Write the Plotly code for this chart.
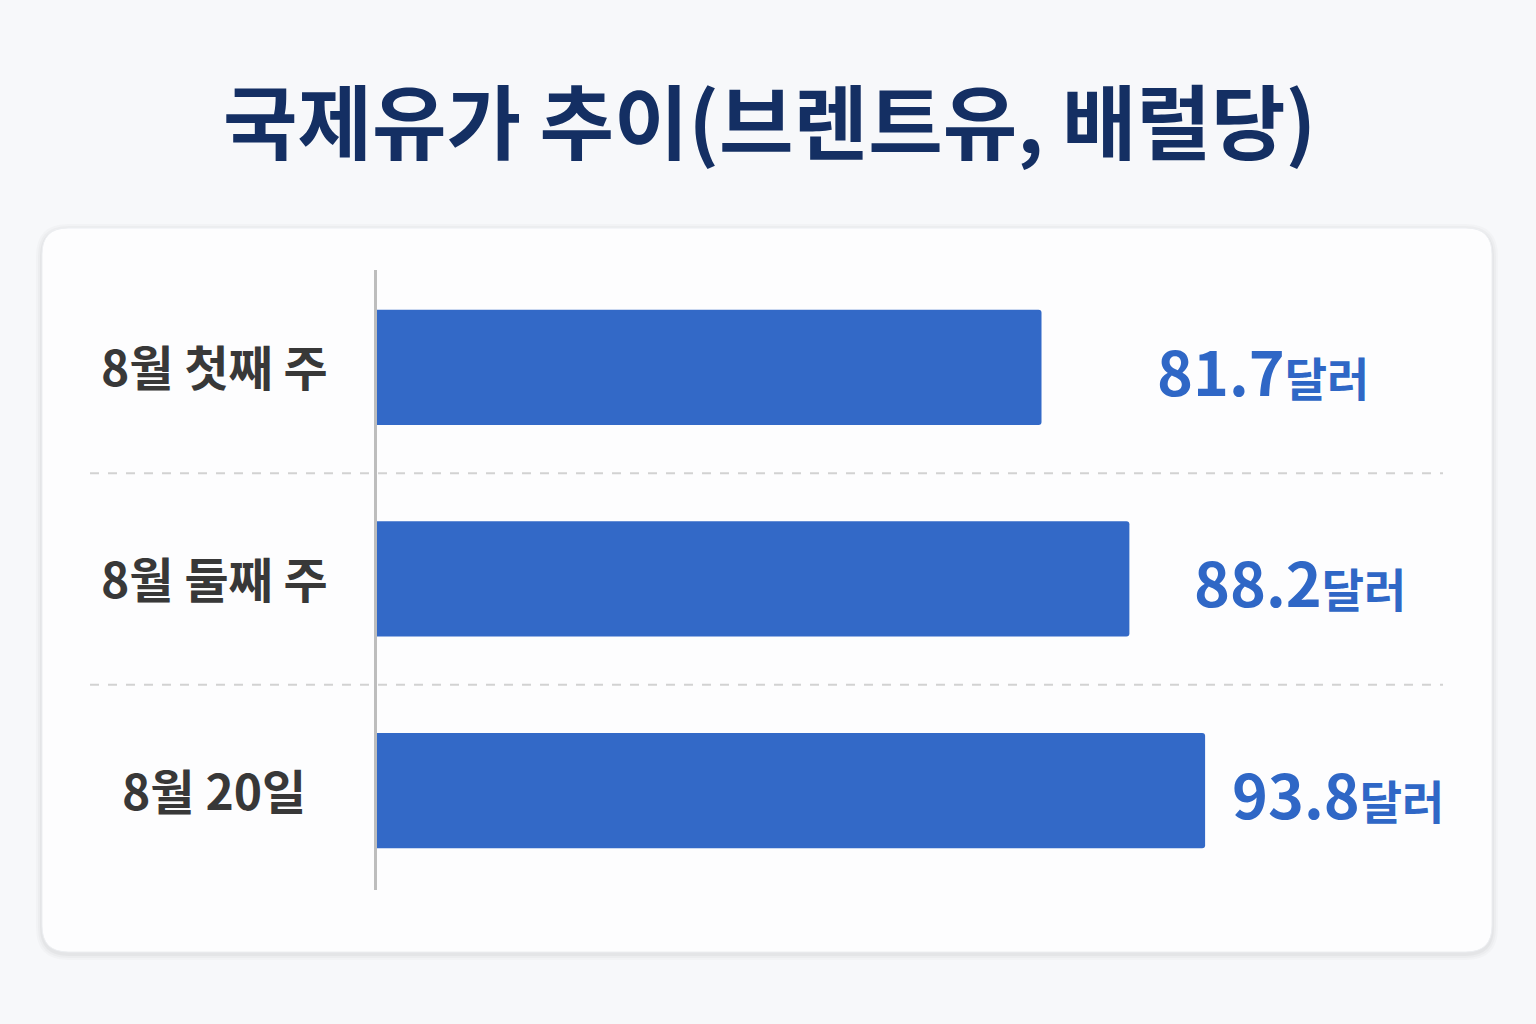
import plotly.graph_objects as go

categories = ['8월 첫째 주', '8월 둘째 주', '8월 20일']
prices = [81.7, 88.2, 93.8]
unit = '달러'
title_text = '국제유가 추이(브렌트유, 배럴당)'

W, H = 1536, 1024
L, R, T, B = 377, 1443, 270, 890   # plot area in pixels

FONT = 'Noto Sans CJK KR'
BAR = '#3369c7'
LABEL = '#2f67c6'


def px(x, y):
    # pixel -> paper coords
    return (x - L) / (R - L), (B - y) / (B - T)


def round_rect(x0, y0, x1, y1, r):
    def p(x, y):
        a, b = px(x, y)
        return f'{a:.5f},{b:.5f}'
    return (f'M {p(x0 + r, y0)} L {p(x1 - r, y0)} Q {p(x1, y0)} {p(x1, y0 + r)} '
            f'L {p(x1, y1 - r)} Q {p(x1, y1)} {p(x1 - r, y1)} '
            f'L {p(x0 + r, y1)} Q {p(x0, y1)} {p(x0, y1 - r)} '
            f'L {p(x0, y0 + r)} Q {p(x0, y0)} {p(x0 + r, y0)} Z')


fig = go.Figure()
fig.add_trace(go.Bar(
    x=prices, y=categories, orientation='h',
    marker=dict(color=BAR, cornerradius=3, line=dict(width=0)),
    width=0.545, hoverinfo='skip'))

shapes = []
# card shadow + card
for i, op in enumerate([0.02, 0.025, 0.03]):
    g = 6 - 2 * i
    shapes.append(dict(type='path', xref='paper', yref='paper', layer='below',
                       path=round_rect(42 - g, 228 - g + 2, 1492 + g, 952 + g + 2, 26 + g),
                       fillcolor=f'rgba(0,0,0,{op})', line=dict(width=0)))
shapes.append(dict(type='path', xref='paper', yref='paper', layer='below',
                   path=round_rect(42, 228, 1492, 952, 26),
                   fillcolor='#fdfdfe', line=dict(color='#eceef1', width=1)))
# dashed separators
gx0, _ = px(90, 0)
for yv in [0.5, 1.5]:
    shapes.append(dict(type='line', xref='paper', yref='y', x0=gx0, x1=1.0, y0=yv, y1=yv,
                       line=dict(color='#d2d2d2', width=2, dash='dash'), layer='below'))

annotations = []
lx, _ = px(214, 0)
for c in categories:
    annotations.append(dict(x=lx, y=c, xref='paper', yref='y', text=c, showarrow=False,
                            xanchor='center', yanchor='middle', yshift=2,
                            font=dict(family=FONT, size=48, color='#383838', weight=700)))

label_shift = [113, 63, 25]
for v, c, s in zip(prices, categories, label_shift):
    annotations.append(dict(
        x=v, y=c, xref='x', yref='y', xanchor='left', yanchor='middle', xshift=s, yshift=-2,
        showarrow=False,
        text=f'{v}<span style="font-size:46px">{unit}</span>',
        font=dict(family=FONT, size=61, color=LABEL, weight=700)))

fig.update_layout(
    width=W, height=H,
    margin=dict(l=L, r=W - R, t=T, b=H - B),
    paper_bgcolor='#f7f8fa', plot_bgcolor='rgba(0,0,0,0)',
    showlegend=False,
    title=dict(text=title_text, x=0.501, xanchor='center', y=1 - 125 / H, yanchor='middle',
               yref='container',
               font=dict(family=FONT, size=81, color='#142f63', weight=700)),
    xaxis=dict(range=[32.55, 32.55 + (R - L) / 13.52], visible=False, fixedrange=True),
    yaxis=dict(range=[2.47, -0.46], showticklabels=False, showgrid=False, zeroline=False,
               showline=True, linecolor='#bdbdbd', linewidth=3, ticks=''),
    shapes=shapes, annotations=annotations,
)

fig.write_html('out.html', config={'displayModeBar': False},
               post_script="document.body.style.margin='0';")
